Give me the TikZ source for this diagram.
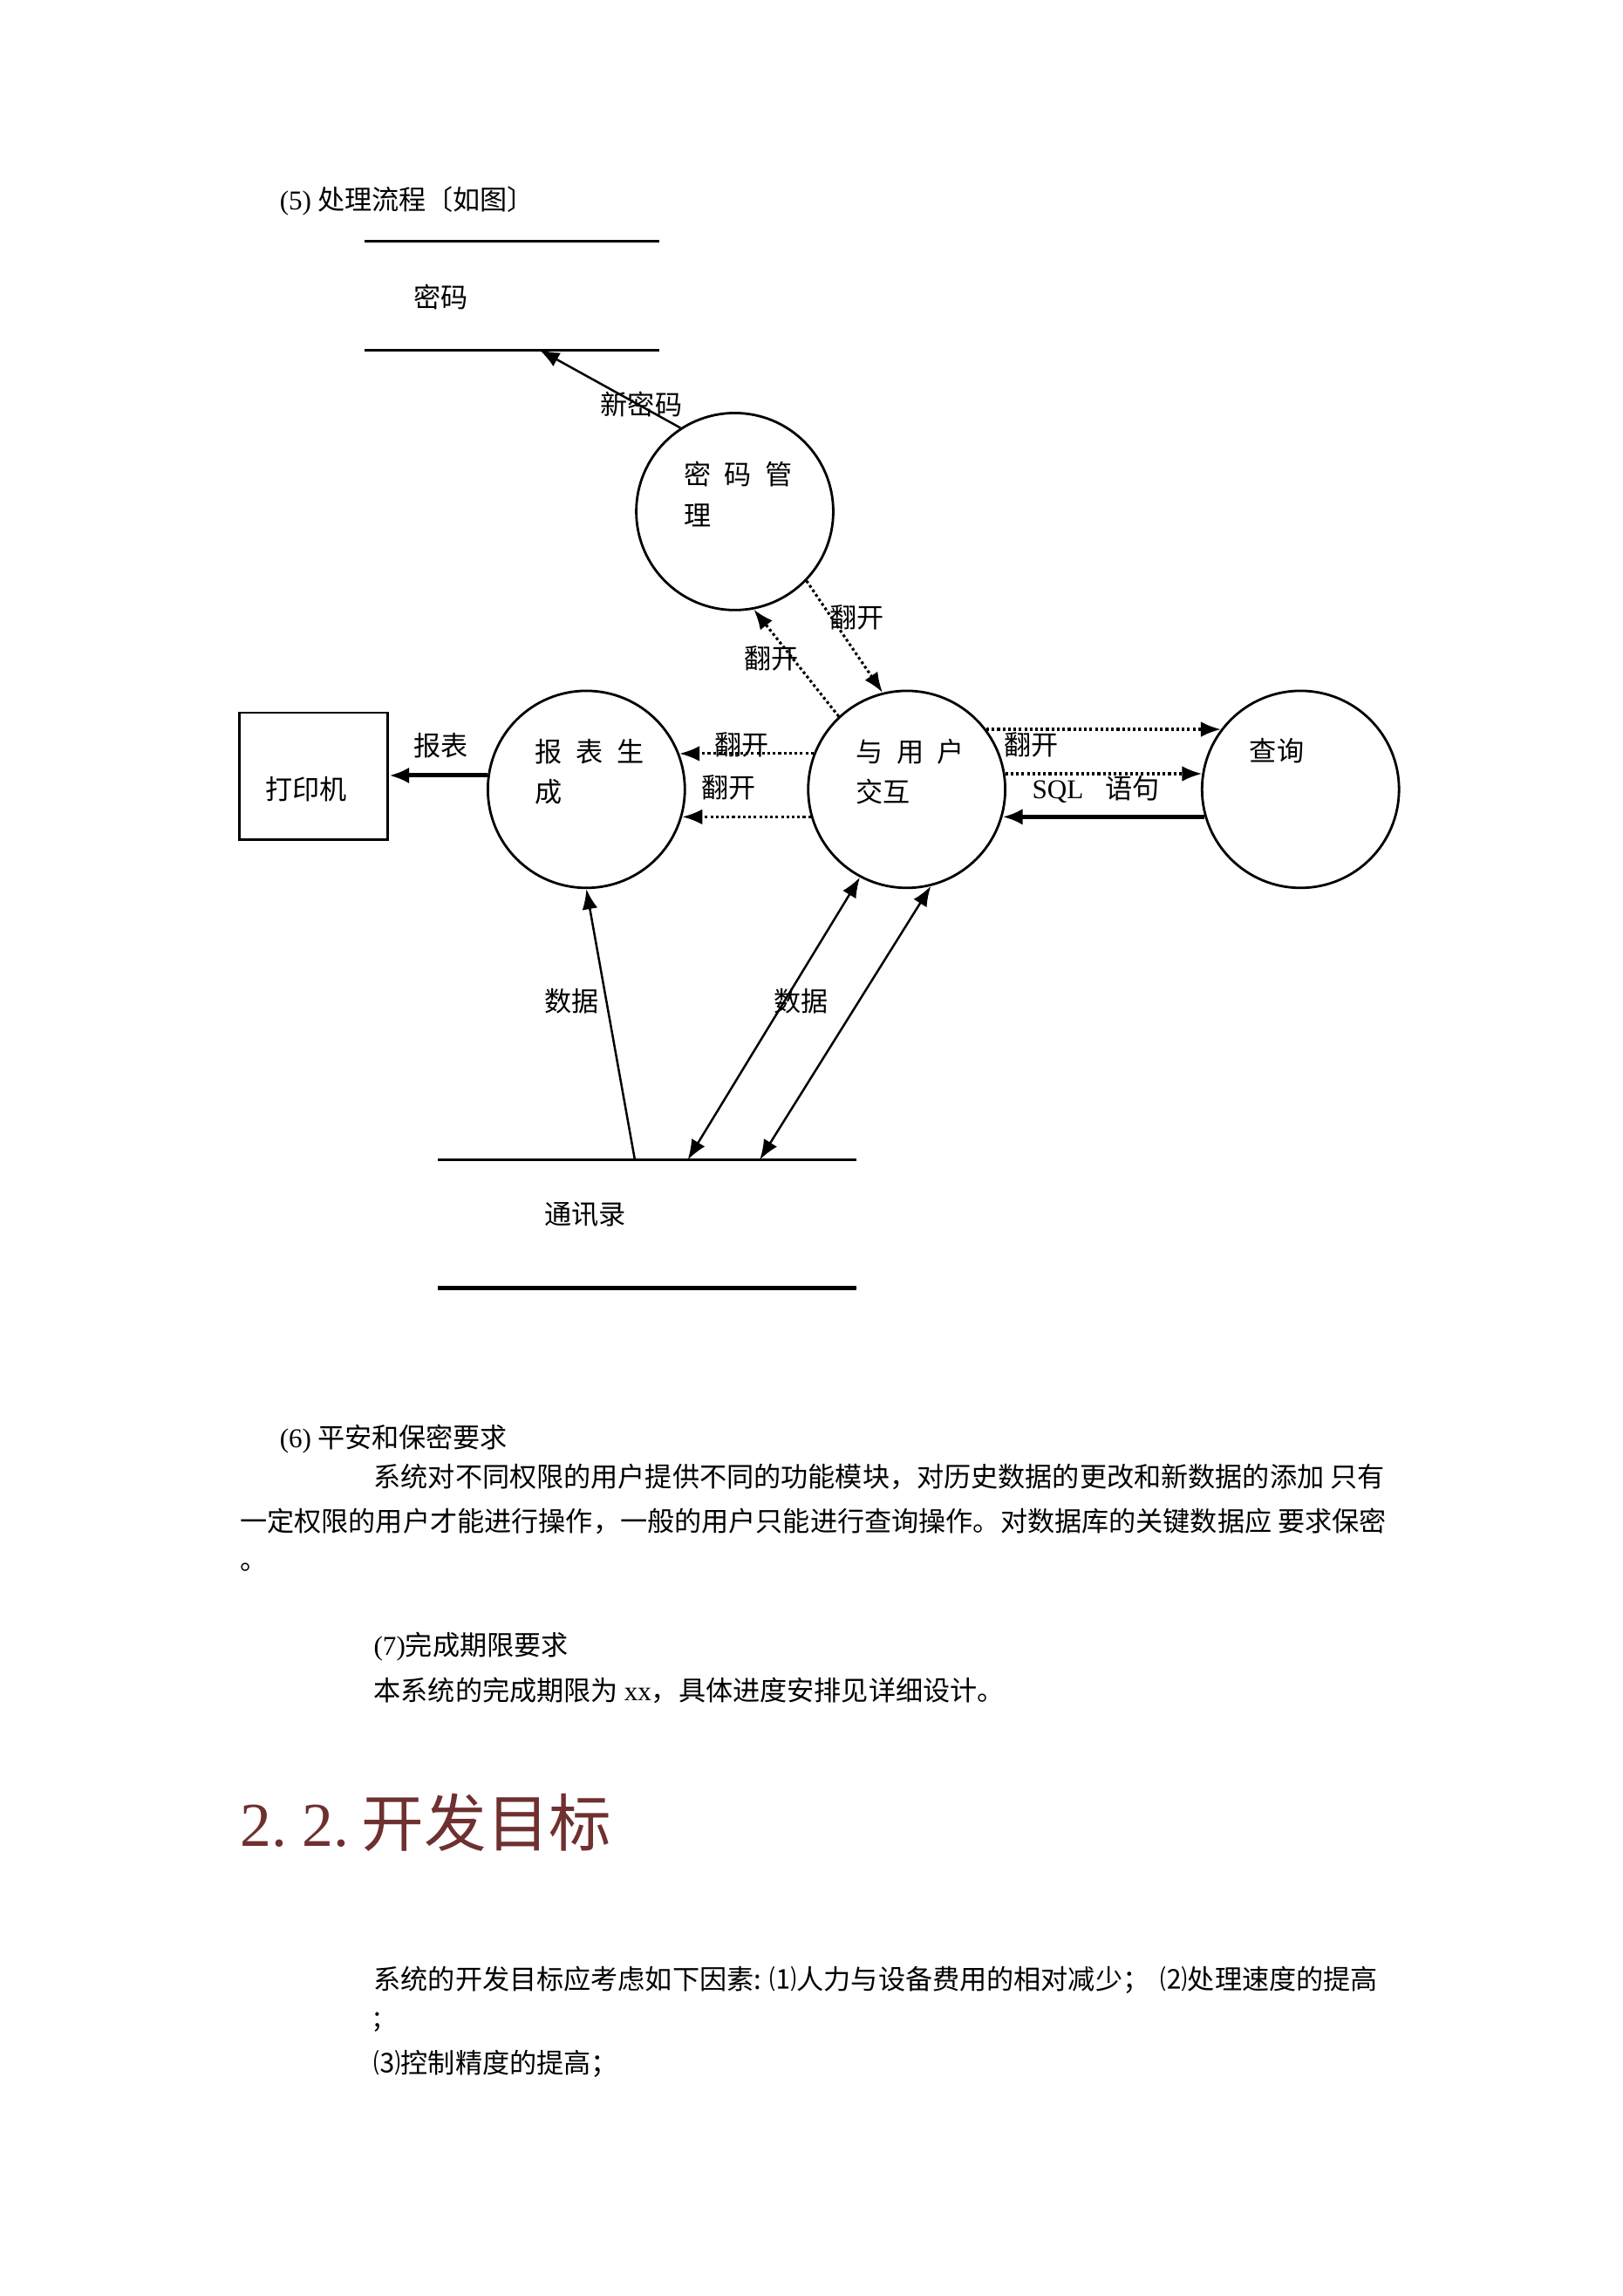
\documentclass[tikz,border=0pt]{standalone}
\usepackage{fontspec}
\setmainfont{Noto Sans CJK SC}
\newfontfamily\lat{Liberation Serif}
\usetikzlibrary{arrows.meta,positioning}
\definecolor{maroon}{RGB}{110,48,48}

\tikzset{
	proc/.style={circle, draw, line width=0.9pt, minimum size=25.5mm, inner sep=0pt},
	proctext/.style={anchor=west, align=left, inner sep=0pt, font=\fontsize{10pt}{15pt}\selectfont},
	store/.style={inner sep=0pt, outer sep=0pt},
	lbl/.style={inner sep=0pt, font=\fontsize{10pt}{12pt}\selectfont},
	txt/.style={anchor=west, inner sep=0pt, font=\fontsize{10pt}{12pt}\selectfont},
	flow/.style={line width=0.8pt, -{Latex[length=2.6mm,width=2mm]}},
	bothflow/.style={line width=0.8pt, {Latex[length=2.6mm,width=2mm]}-{Latex[length=2.6mm,width=2mm]}},
	heavyflow/.style={line width=1.6pt, -{Latex[length=2.6mm,width=2.1mm]}},
	dotflow/.style={line width=1pt, densely dotted, -{Latex[length=2.6mm,width=2mm]}},
}

\begin{document}
\begin{tikzpicture}[x=0.19022mm, y=-0.19022mm]

		% page
		\fill[white] (0,0) rectangle (1104,1562);
		\useasboundingbox (0,0) rectangle (1104,1562);

		% caption of the flow
		\node[txt] (cap5) at (190,137) {{\lat (5)} 处理流程〔如图〕};

		% password store
		\node[store, minimum width=38.2mm, minimum height=14.1mm] (pwdstore) at (348.5,201) {};
		\draw[line width=0.9pt] (pwdstore.north west) -- (pwdstore.north east);
		\draw[line width=0.9pt] (pwdstore.south west) -- (pwdstore.south east);
		\node[txt] (pwdname) at (281,202) {密码};

		% processes
		\node[proc] (pwd) at (500,348) {};
		\node[proctext] (pwdtxt) at (465,336) {密\hspace{0.5em}码\hspace{0.5em}管\\理};
		\node[proc] (rep) at (399,537) {};
		\node[proctext] (reptxt) at (364,525) {报\hspace{0.5em}表\hspace{0.5em}生\\成};
		\node[proc] (ui) at (617,537) {};
		\node[proctext] (uitxt) at (582,525) {与\hspace{0.5em}用\hspace{0.5em}户\\交互};
		\node[proc] (qry) at (885,537) {};
		\node[proctext] (qrytxt) at (850,511) {查询};

		% password management
		\coordinate (pwdin) at (367,238);
		\draw[flow] (pwd.123) -- (pwdin);
		\node[lbl] (newpwd) at (436.5,275) {新密码};
		\draw[dotflow] (ui.133) -- (pwd.-79);
		\node[lbl] (open1) at (525,448) {翻开};
		\draw[dotflow] (pwd.-44) -- (ui.104);
		\node[lbl] (open2) at (583,420) {翻开};

		% printer and reports
		\node[draw, line width=0.9pt, minimum width=19.2mm, minimum height=16.4mm, inner sep=0pt] (printer) at (213.5,528) {};
		\node[lbl] (printtxt) at (208.5,537) {打印机};
		\draw[heavyflow] (rep.172) -- (rep.172 -| printer.east);
		\node[lbl] (report) at (300,507) {报表};
		\draw[dotflow] (ui.159) -- (rep.21);
		\draw[dotflow] (ui.196) -- (rep.-16);
		\node[lbl] (open3) at (505,507) {翻开};
		\node[lbl] (open4) at (496,536) {翻开};

		% query
		\draw[dotflow] (ui.37) -- (qry.143);
		\draw[dotflow] (ui.9) -- (qry.171);
		\draw[heavyflow] (qry.196) -- (ui.-16);
		\node[lbl] (open5) at (702,507) {翻开};
		\node[lbl, anchor=west] (sql) at (702,537) {{\lat SQL}\hspace{0.8em}语句};

		% contacts store
		\node[store, minimum width=54.2mm, minimum height=16.55mm] (book) at (440.5,832.5) {};
		\draw[line width=0.9pt] (book.north west) -- (book.north east);
		\draw[line width=1.6pt] (book.south west) -- (book.south east);
		\node[txt] (booktxt) at (370,826) {通讯录};
		\coordinate (bk1) at (432,789);
		\coordinate (bk2) at (468,789);
		\coordinate (bk3) at (517,789);
		\draw[flow] (bk1) -- (rep.south);
		\draw[bothflow] (bk2) -- (ui.242);
		\draw[bothflow] (bk3) -- (ui.284);
		\node[lbl] (data1) at (389,681) {数据};
		\node[lbl] (data2) at (545,681) {数据};

		% text below the figure
		\node[txt] (cap6) at (190,979) {{\lat (6)} 平安和保密要求};
		\node[txt] (par1) at (254,1005) {系统对不同权限的用户提供不同的功能模块，对历史数据的更改和新数据的添加 只有};
		\node[txt] (par2) at (163,1035) {一定权限的用户才能进行操作，一般的用户只能进行查询操作。对数据库的关键数据应 要求保密};
		\node[txt] (par3) at (163,1066) {。};
		\node[txt] (cap7) at (254,1120) {{\lat (7)}完成期限要求};
		\node[txt] (par4) at (254,1150) {本系统的完成期限为 {\lat xx}，具体进度安排见详细设计。};

		% section heading
		\node[txt, text=maroon, font=\fontsize{23pt}{28pt}\selectfont] (sec) at (163,1240) {{\lat 2.\hspace{0.25em}2.}\hspace{0.2em}开发目标};

		% goals
		\node[txt] (goal1) at (254,1347) {系统的开发目标应考虑如下因素:\hspace{0.3em}⑴人力与设备费用的相对减少；\hspace{0.4em}⑵处理速度的提高};
		\node[txt] (goal2) at (254,1376) {;};
		\node[txt] (goal3) at (254,1404) {⑶控制精度的提高；};

\end{tikzpicture}
\end{document}
